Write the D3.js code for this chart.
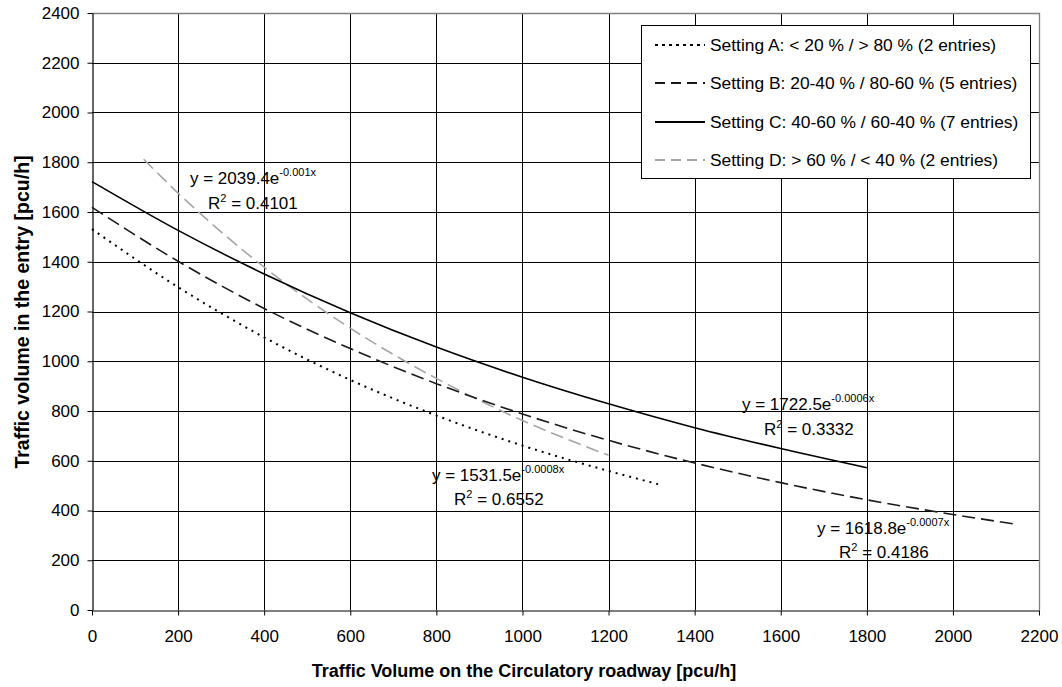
<!DOCTYPE html>
<html>
<head>
<meta charset="utf-8">
<script src="https://cdn.jsdelivr.net/npm/d3@7"></script>
<style>
  html, body { margin: 0; padding: 0; background: #fff; }
  svg text { font-family: "Liberation Sans", Arial, sans-serif; fill: #000; }
</style>
</head>
<body>
<svg id="chart" width="1062" height="687"></svg>
<script>
// Fitted exponential trend curves, sampled along the circulatory flow axis
const xTicks = [0, 200, 400, 600, 800, 1000, 1200, 1400, 1600, 1800, 2000, 2200];
const yTicks = [0, 200, 400, 600, 800, 1000, 1200, 1400, 1600, 1800, 2000, 2200, 2400];

const seriesNames = [
  "Setting A: < 20 % / > 80 % (2 entries)",
  "Setting B: 20-40 % / 80-60 % (5 entries)",
  "Setting C: 40-60 % / 60-40 % (7 entries)",
  "Setting D: > 60 % / < 40 % (2 entries)"
];

const xA = [0, 200, 400, 600, 800, 1000, 1200, 1315];
const yA = [1531, 1298, 1096, 925, 782, 661, 559, 506];

const xB = [0, 200, 400, 600, 800, 1000, 1200, 1400, 1600, 1800, 2000, 2150];
const yB = [1619, 1402, 1212, 1051, 910, 788, 682, 591, 512, 443, 384, 344];

const xC = [0, 200, 400, 600, 800, 1000, 1200, 1400, 1600, 1800];
const yC = [1722, 1526, 1351, 1195, 1057, 936, 829, 733, 649, 572];

const xD = [120, 200, 400, 600, 800, 1000, 1200];
const yD = [1812, 1676, 1378, 1133, 931, 762, 622];

// Trend line equations and R² values
const eqCoef = ["1531.5", "1618.8", "1722.5", "2039.4"];
const eqExp = ["-0.0008x", "-0.0007x", "-0.0006x", "-0.001x"];
const eqR2 = ["0.6552", "0.4186", "0.3332", "0.4101"];

const svg = d3.select("#chart");
const m = { left: 92, right: 1039, top: 13, bottom: 610 };

const x = d3.scaleLinear().domain([0, 2200]).range([m.left, m.right]);
const y = d3.scaleLinear().domain([0, 2400]).range([m.bottom, m.top]);

// gridlines
const grid = svg.append("g");
grid.selectAll("line.v").data(xTicks.slice(1, -1)).join("line")
  .attr("x1", d => Math.round(x(d)) + 0.5).attr("x2", d => Math.round(x(d)) + 0.5)
  .attr("y1", m.top).attr("y2", m.bottom)
  .attr("stroke", "#000").attr("stroke-width", 1);
grid.selectAll("line.h").data(yTicks.slice(1, -1)).join("line")
  .attr("y1", d => Math.round(y(d)) + 0.5).attr("y2", d => Math.round(y(d)) + 0.5)
  .attr("x1", m.left).attr("x2", m.right)
  .attr("stroke", "#000").attr("stroke-width", 1);

// plot frame (top and right in grey)
svg.append("path")
  .attr("d", `M${m.left},${m.top + 0.5}H${m.right + 0.5}V${m.bottom}`)
  .attr("fill", "none").attr("stroke", "#808080").attr("stroke-width", 1.3);

// axes
const fmt = d3.format("d");
const xAxis = d3.axisBottom(x).tickValues(xTicks).tickFormat(fmt).tickSize(5).tickSizeOuter(0).tickPadding(14);
const yAxis = d3.axisLeft(y).tickValues(yTicks).tickFormat(fmt).tickSize(5).tickSizeOuter(0).tickPadding(8);

const gx = svg.append("g").attr("transform", `translate(0,${m.bottom + 0.5})`).call(xAxis);
const gy = svg.append("g").attr("transform", `translate(${m.left + 0.5},0)`).call(yAxis);
[gx, gy].forEach(g => {
  g.selectAll("path.domain").attr("stroke", "#000").attr("stroke-width", 1.2);
  g.selectAll(".tick line").attr("stroke", "#000");
  g.selectAll("text").style("font-family", "'Liberation Sans', Arial, sans-serif")
    .style("font-size", "17px").attr("fill", "#000");
});

// axis titles
svg.append("text")
  .attr("x", 524).attr("y", 677)
  .attr("text-anchor", "middle")
  .style("font-size", "18px").style("font-weight", "bold")
  .text("Traffic Volume on the Circulatory roadway [pcu/h]");
svg.append("text")
  .attr("transform", `translate(29,312) rotate(-90)`)
  .attr("text-anchor", "middle")
  .style("font-size", "19.5px").style("font-weight", "bold")
  .text("Traffic volume in the entry [pcu/h]");

// series styling
const styles = [
  { stroke: "#000", width: 2, dash: "2,5" },
  { stroke: "#1a1a1a", width: 1.6, dash: "13,6" },
  { stroke: "#000", width: 1.6, dash: null },
  { stroke: "#a6a6a6", width: 1.6, dash: "13,6" }
];
const seriesData = [
  d3.zip(xA, yA), d3.zip(xB, yB), d3.zip(xC, yC), d3.zip(xD, yD)
];

const line = d3.line().x(d => x(d[0])).y(d => y(d[1])).curve(d3.curveMonotoneX);

// draw D first so darker curves sit on top
const order = [3, 0, 1, 2];
order.forEach(i => {
  svg.append("path")
    .datum(seriesData[i])
    .attr("d", line)
    .attr("fill", "none")
    .attr("stroke", styles[i].stroke)
    .attr("stroke-width", styles[i].width)
    .attr("stroke-dasharray", styles[i].dash);
});

// equation labels
const eqPos = [
  { x: 432, y: 481, rx: 454, ry: 505 },
  { x: 817, y: 534, rx: 839, ry: 558 },
  { x: 742, y: 410, rx: 764, ry: 435 },
  { x: 190, y: 184, rx: 208, ry: 209 }
];
eqPos.forEach((p, i) => {
  const t = svg.append("text").attr("x", p.x).attr("y", p.y).style("font-size", "17px");
  t.append("tspan").text(`y = ${eqCoef[i]}e`);
  t.append("tspan").attr("dy", -8).style("font-size", "11px").text(eqExp[i]);
  const r = svg.append("text").attr("x", p.rx).attr("y", p.ry).style("font-size", "17px");
  r.append("tspan").text("R");
  r.append("tspan").attr("dy", -7).style("font-size", "11px").text("2");
  r.append("tspan").attr("dy", 7).text(` = ${eqR2[i]}`);
});

// legend
const lg = svg.append("g");
lg.append("rect")
  .attr("x", 641.5).attr("y", 25.5).attr("width", 389).attr("height", 153)
  .attr("fill", "#fff").attr("stroke", "#000").attr("stroke-width", 1);
const legendY = [45, 83, 122, 160];
seriesNames.forEach((name, i) => {
  lg.append("line")
    .attr("x1", 655).attr("x2", 705)
    .attr("y1", legendY[i]).attr("y2", legendY[i])
    .attr("stroke", styles[i].stroke)
    .attr("stroke-width", i === 0 ? 1.8 : 2)
    .attr("stroke-dasharray", i === 0 ? "3,4" : (styles[i].dash ? "10,6" : null));
  lg.append("text")
    .attr("x", 710).attr("y", legendY[i] + 6)
    .style("font-size", "17.4px")
    .text(name);
});
</script>
</body>
</html>
